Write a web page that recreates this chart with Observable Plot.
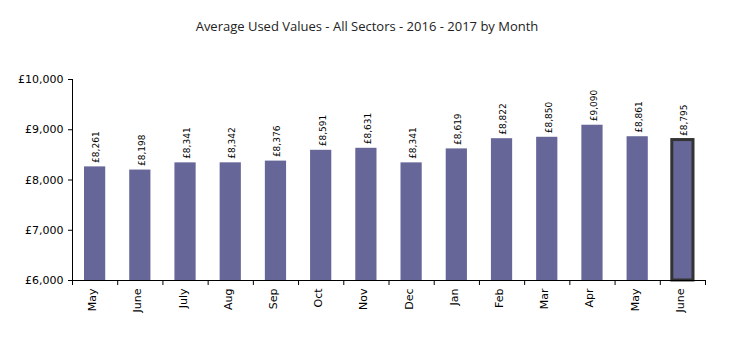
<!DOCTYPE html>
<html>
<head>
<meta charset="utf-8">
<script src="https://cdn.jsdelivr.net/npm/d3@7"></script>
<script src="https://cdn.jsdelivr.net/npm/@observablehq/plot@0.6"></script>
<style>
  html, body { margin: 0; padding: 0; background: #fff; }
  #title { height: 40px; width: 736px; box-sizing: border-box; padding-top: 18px;
    text-align: center; font-family: "Open Sans", sans-serif; font-size: 13px; color: #222; line-height: 16px; }
  #title span { position: relative; left: -1px; }
  svg { display: block; }
</style>
</head>
<body>
<div id="title"><span>Average Used Values - All Sectors - 2016 - 2017 by Month</span></div>
<div id="chart"></div>
<script>
const monthLabels = ["May", "June", "July", "Aug", "Sep", "Oct", "Nov", "Dec", "Jan", "Feb", "Mar", "Apr", "May", "June"];
const values = [8261, 8198, 8341, 8342, 8376, 8591, 8631, 8341, 8619, 8822, 8850, 9090, 8861, 8795];
const yTicks = [6000, 7000, 8000, 9000, 10000];
const highlightIndex = 13;

const data = monthLabels.map((m, i) => ({i, month: m, value: values[i]}));
const bounds = d3.range(monthLabels.length + 1).map(k => k - 0.5);
const gbp = v => "£" + d3.format(",")(v);

const chart = Plot.plot({
  width: 736,
  height: 313,
  marginLeft: 72,
  marginRight: 31,
  marginTop: 39,
  marginBottom: 73,
  style: {fontFamily: "'DejaVu Sans', sans-serif", color: "#000", background: "#fff"},
  x: {type: "linear", domain: [-0.5, monthLabels.length - 0.5], axis: null},
  y: {domain: [6000, 10000], axis: null},
  marks: [
    Plot.rectY(data, {x1: d => d.i - 0.5, x2: d => d.i + 0.5, y1: yTicks[0], y2: "value",
      insetLeft: 12, insetRight: 12, fill: "#666699"}),
    Plot.rectY(data.filter(d => d.i === highlightIndex), {x1: d => d.i - 0.5, x2: d => d.i + 0.5, y1: yTicks[0], y2: "value",
      insetLeft: 12, insetRight: 12, fill: "none", stroke: "#333333", strokeWidth: 3}),
    Plot.ruleY([yTicks[0]], {stroke: "#000", strokeWidth: 1}),
    Plot.ruleX([bounds[0]], {stroke: "#000", strokeWidth: 1}),
    Plot.axisY({ticks: yTicks, tickFormat: gbp, tickSize: 4, tickPadding: 5, fontSize: 11, label: null, stroke: "#000", fontFamily: "'DejaVu Sans', sans-serif"}),
    Plot.axisX({ticks: bounds, tickFormat: () => "", tickSize: 5, label: null, stroke: "#000"}),
    Plot.text(data, {x: "i", frameAnchor: "bottom", text: "month", rotate: -90, textAnchor: "end",
      dy: 8, dx: 1, fontSize: 11, fill: "#000", fontFamily: "'DejaVu Sans', sans-serif"}),
    Plot.text(data, {x: "i", y: "value", text: d => gbp(d.value), rotate: -90, textAnchor: "start",
      dy: -4, dx: 1.5, fontSize: 9, fill: "#000", fontFamily: "'DejaVu Sans', sans-serif"})
  ]
});
document.getElementById("chart").appendChild(chart);
</script>
</body>
</html>
